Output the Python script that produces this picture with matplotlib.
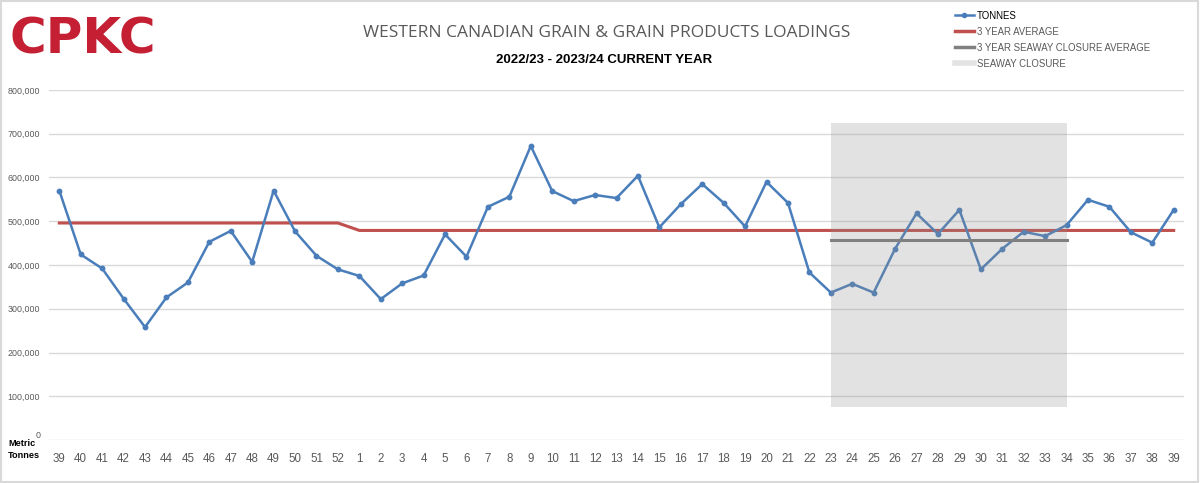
import matplotlib
matplotlib.use("Agg")
import matplotlib.pyplot as plt
import matplotlib.ticker as ticker
from matplotlib.lines import Line2D
from matplotlib.patches import Rectangle
import numpy as np

weeks = ["39", "40", "41", "42", "43", "44", "45", "46", "47", "48", "49", "50", "51", "52",
         "1", "2", "3", "4", "5", "6", "7", "8", "9", "10", "11", "12", "13", "14", "15",
         "16", "17", "18", "19", "20", "21", "22", "23", "24", "25", "26", "27", "28", "29",
         "30", "31", "32", "33", "34", "35", "36", "37", "38", "39"]

tonnes = [570000, 424000, 392000, 323000, 258000, 326000, 360000, 453000, 478000, 407000,
          570000, 477000, 421000, 390000, 375000, 322000, 358000, 376000, 470000, 419000,
          533000, 556000, 672000, 569000, 546000, 560000, 553000, 604000, 486000, 539000,
          585000, 542000, 488000, 590000, 542000, 383000, 337000, 357000, 337000, 437000,
          518000, 471000, 526000, 390000, 437000, 476000, 466000, 491000, 549000, 533000,
          475000, 451000, 526000]

avg_3yr = [496000, 496000, 496000, 496000, 496000, 496000, 496000, 496000, 496000, 496000,
           496000, 496000, 496000, 496000, 479000, 479000, 479000, 479000, 479000, 479000,
           479000, 479000, 479000, 479000, 479000, 479000, 479000, 479000, 479000, 479000,
           479000, 479000, 479000, 479000, 479000, 479000, 479000, 479000, 479000, 479000,
           479000, 479000, 479000, 479000, 479000, 479000, 479000, 479000, 479000, 479000,
           479000, 479000, 479000]

# seaway closure: second-year weeks 23 to 34
seaway_start, seaway_end = 36, 47
seaway_avg = [456000, 456000, 456000, 456000, 456000, 456000,
              456000, 456000, 456000, 456000, 456000, 456000]
seaway_low, seaway_high = 75000, 725000

BLUE = "#4a7ebb"
RED = "#c0504d"
GREY = "#808080"
TXT = "#595959"

x = np.arange(len(weeks))

fig = plt.figure(figsize=(12, 4.83), dpi=100)
ax = fig.add_axes([0.0405, 0.089, 0.9465, 0.7247])

ax.plot(x, avg_3yr, color=RED, lw=2.2, zorder=2)
ax.plot(x, tonnes, color=BLUE, lw=1.8, marker="o", ms=3.2, zorder=3)
ax.fill_between(x[seaway_start:seaway_end + 1], seaway_low, seaway_high,
                color="#8f8f8f", alpha=0.25, lw=0, zorder=4)
ax.plot(x[seaway_start:seaway_end + 1], seaway_avg, color=GREY, lw=2.2, zorder=5)

ax.set_xlim(-0.5, len(weeks) - 0.5)
ax.set_ylim(0, 800000)
ax.set_xticks(x)
ax.set_xticklabels(weeks, fontsize=8.3, color=TXT, family="Liberation Sans")
ax.yaxis.set_major_locator(ticker.MultipleLocator(100000))
# zero is written separately, slightly raised next to "Metric"
ax.yaxis.set_major_formatter(ticker.FuncFormatter(lambda v, p: f"{int(v):,}" if v > 0 else ""))
ax.tick_params(axis="x", length=0, pad=9.5)
ax.tick_params(axis="y", length=0, pad=6, labelsize=6.4, labelcolor=TXT)
for lbl in ax.get_yticklabels():
    lbl.set_family("Liberation Sans")
ax.grid(axis="y", color="#d9d9d9", lw=1)
ax.set_axisbelow(True)
for s in ax.spines.values():
    s.set_visible(False)

fig.text(41 / 1200, 1 - 435 / 483, "0", fontsize=6.4, color=TXT, ha="right", va="center",
         family="Liberation Sans")
fig.text(8 / 1200, 1 - 443 / 483, "Metric", fontsize=6.6, fontweight="bold", va="center",
         family="Liberation Sans")
fig.text(8 / 1200, 1 - 456 / 483, "Tonnes", fontsize=6.6, fontweight="bold", va="center",
         family="Liberation Sans")

# logo and titles
fig.text(9 / 1200, 1 - 53 / 483, "CPKC", fontsize=36, fontweight="bold", color="#c41f33",
         va="baseline", ha="left", family="DejaVu Sans")
fig.text(607 / 1200, 1 - 33 / 483, "WESTERN CANADIAN GRAIN & GRAIN PRODUCTS LOADINGS",
         fontsize=12.5, color=TXT, ha="center", va="center", family="Open Sans")
fig.text(604 / 1200, 1 - 60 / 483, "2022/23 - 2023/24 CURRENT YEAR", fontsize=9.5,
         fontweight="bold", ha="center", va="center", family="Liberation Sans")

handles = [
    Line2D([], [], color=BLUE, lw=1.8, marker="o", ms=3),
    Line2D([], [], color=RED, lw=2.5),
    Line2D([], [], color=GREY, lw=2.5),
    Line2D([], [], color="#e3e3e3", lw=4),
]
labels = ["TONNES", "3 YEAR AVERAGE", "3 YEAR SEAWAY CLOSURE AVERAGE", "SEAWAY CLOSURE"]
leg = fig.legend(handles, labels, loc="upper left", bbox_to_anchor=(948 / 1200, 1 - 4 / 483),
                 frameon=False, handlelength=2.0, handletextpad=0.3,
                 labelspacing=0.62, borderpad=0.2,
                 prop={"family": "Liberation Sans", "size": 6.9})
for i, t in enumerate(leg.get_texts()):
    t.set_color("black" if i == 0 else TXT)

fig.patches.append(Rectangle((0.001, 0.002), 0.997, 0.996, transform=fig.transFigure,
                             fill=False, edgecolor="#d9d9d9", lw=1.5))

fig.savefig("out.png", dpi=100)
